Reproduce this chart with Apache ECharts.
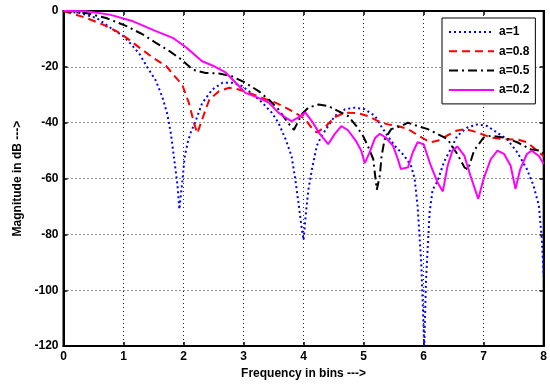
<!DOCTYPE html>
<html>
<head>
<meta charset="utf-8">
<script src="https://cdn.jsdelivr.net/npm/echarts@6/dist/echarts.min.js"></script>
<style>
  html, body { margin: 0; padding: 0; background: #fff; }
  #chart { width: 550px; height: 385px; }
</style>
</head>
<body>
<div id="chart"></div>
<script>
// Magnitude responses (dB) against frequency (bins) for four values of a
const freqA1 = [0, 0.27, 0.55, 0.82, 1.0, 1.13, 1.27, 1.40, 1.54, 1.65, 1.73, 1.79, 1.85, 1.90, 1.93, 1.98, 2.02, 2.07, 2.12, 2.2, 2.31, 2.48, 2.65, 2.81, 2.98, 3.12, 3.31, 3.47, 3.58, 3.70, 3.80, 3.86, 3.92, 3.97, 4.0, 4.04, 4.08, 4.14, 4.22, 4.30, 4.41, 4.52, 4.69, 4.85, 5.02, 5.19, 5.29, 5.40, 5.52, 5.68, 5.79, 5.85, 5.90, 5.96, 5.99, 6.01, 6.04, 6.07, 6.10, 6.15, 6.23, 6.34, 6.45, 6.56, 6.73, 6.90, 7.06, 7.22, 7.39, 7.56, 7.72, 7.83, 7.92, 7.97, 8.0];
const magA1 = [0, -0.7, -2.5, -6.6, -9, -12, -15.5, -20.3, -25, -31, -37, -44, -54, -62.5, -71, -61, -52, -47, -43.5, -39.5, -33, -28.1, -25.7, -25.7, -26.9, -29.3, -32.8, -36.4, -40, -45.9, -52, -60, -69.6, -78, -82, -72, -64, -56.6, -48.3, -44.7, -41.2, -37.6, -35.2, -34.6, -35.2, -37.6, -41.2, -44.7, -48.3, -51.9, -55.4, -60, -70, -90, -107.5, -120, -96, -84, -72, -64, -61, -54, -49.5, -44.7, -41.7, -40.6, -41.2, -43.5, -45.9, -50.6, -56.6, -62.5, -69.6, -82, -95];

const freqA08 = [0, 0.11, 0.38, 0.66, 0.88, 1.05, 1.27, 1.49, 1.71, 1.87, 1.98, 2.09, 2.18, 2.23, 2.31, 2.43, 2.59, 2.76, 2.92, 3.08, 3.31, 3.53, 3.70, 3.86, 4.03, 4.14, 4.22, 4.36, 4.52, 4.69, 4.91, 5.07, 5.24, 5.40, 5.57, 5.74, 5.90, 6.04, 6.12, 6.23, 6.40, 6.56, 6.70, 6.90, 7.12, 7.34, 7.56, 7.72, 7.83, 8.0];
const magA08 = [0, -0.7, -2.5, -4.9, -7.2, -9.6, -13.2, -16.7, -19.7, -23.8, -26.5, -33, -40.5, -43.8, -38.8, -31.7, -28.7, -27.5, -28.1, -29.3, -31.1, -32.8, -34.6, -36.4, -38.8, -42, -43.5, -41.5, -38, -36.4, -36.6, -37.6, -39.4, -40.6, -41.2, -42.3, -44.4, -46.2, -47, -46.5, -44.5, -42.8, -42.3, -43.5, -45.3, -45.9, -46, -47, -48.9, -52];

const freqA05 = [0, 0.4, 0.71, 1.05, 1.32, 1.54, 1.76, 1.96, 2.15, 2.37, 2.59, 2.81, 3.03, 3.25, 3.42, 3.58, 3.70, 3.80, 3.84, 3.97, 4.08, 4.25, 4.41, 4.57, 4.74, 4.88, 4.99, 5.07, 5.16, 5.22, 5.27, 5.30, 5.35, 5.46, 5.63, 5.74, 5.90, 6.07, 6.23, 6.40, 6.56, 6.68, 6.74, 6.84, 7.0, 7.12, 7.34, 7.56, 7.78, 7.94, 8.0];
const magA05 = [0, -0.8, -2.5, -5.4, -8.4, -11.4, -14.3, -17.3, -21, -22.2, -22.4, -23.4, -25.7, -28.7, -31.7, -35.2, -38.8, -41.7, -42.5, -37, -34.6, -33.5, -34, -35.8, -37.6, -41.2, -44.7, -48.3, -53, -64, -59, -51.9, -46, -42.3, -41.2, -40, -41.2, -42.3, -44, -45.9, -51.2, -56, -56.8, -50, -45.3, -44.7, -45.3, -47, -49.5, -50, -51];

const freqA02 = [0, 0.38, 0.77, 1.16, 1.54, 1.82, 2.04, 2.15, 2.31, 2.48, 2.70, 2.87, 3.03, 3.25, 3.42, 3.58, 3.70, 3.80, 3.91, 4.03, 4.14, 4.27, 4.41, 4.52, 4.63, 4.74, 4.88, 4.96, 5.02, 5.10, 5.19, 5.27, 5.37, 5.49, 5.57, 5.62, 5.74, 5.82, 5.90, 6.0, 6.12, 6.23, 6.32, 6.40, 6.48, 6.56, 6.68, 6.78, 6.91, 7.0, 7.12, 7.23, 7.34, 7.45, 7.53, 7.61, 7.72, 7.80, 7.92, 8.0];
const magA02 = [0, -0.1, -1.3, -3.7, -7.2, -9.6, -13, -15, -18, -19.5, -22, -25.7, -29.3, -31.1, -32.8, -36.4, -38.2, -39.4, -38.2, -36.4, -39.5, -44, -47.7, -44, -41.2, -42.7, -46.8, -50, -54.5, -50.6, -45.5, -44, -45.3, -48.3, -53, -56.6, -56, -50.6, -47, -47.7, -55.4, -61.3, -64.6, -55.4, -50, -48.5, -51.9, -59, -67.3, -60, -53, -50, -51.2, -55.4, -63.7, -56.6, -51.2, -50, -51.9, -54.8];

const seriesNames = ['a=1', 'a=0.8', 'a=0.5', 'a=0.2'];
const xTicks = [0, 1, 2, 3, 4, 5, 6, 7, 8];
const yTicks = [-120, -100, -80, -60, -40, -20, 0];

const pairs = (xs, ys) => xs.map((x, i) => [x, ys[i]]);

const font = 'Liberation Sans, Arial, sans-serif';
const gridLine = { show: true, lineStyle: { color: '#222', width: 1, type: [1, 3] } };
const labelStyle = { color: '#000', fontFamily: font, fontWeight: 'bold', fontSize: 12 };
const frameLine = { show: true, onZero: false, lineStyle: { color: '#000', width: 2 } };
const frameTick = { show: true, inside: true, length: 4, lineStyle: { color: '#000', width: 1.5 } };

function lineSeries(name, xs, ys, color, type) {
  return {
    name: name,
    type: 'line',
    data: pairs(xs, ys),
    symbol: 'none',
    showSymbol: false,
    smooth: false,
    animation: false,
    lineStyle: { color: color, width: 2, type: type },
    itemStyle: { color: color }
  };
}

const chart = echarts.init(document.getElementById('chart'), null, { renderer: 'canvas' });
chart.setOption({
  backgroundColor: '#fff',
  animation: false,
  grid: { left: 63.5, right: 3.5, top: 11, bottom: 37, show: true, borderColor: '#000', borderWidth: 2 },
  legend: {
    orient: 'vertical',
    left: 442,
    top: 18,
    padding: [8, 6, 8, 6],
    itemWidth: 45,
    itemHeight: 10,
    itemGap: 7.3,
    // line-only keys: the marker drawn over each key line is made invisible
    itemStyle: { color: 'rgba(0,0,0,0)', borderWidth: 0, borderColor: 'rgba(0,0,0,0)' },
    backgroundColor: '#fff',
    borderColor: '#000',
    borderWidth: 1,
    data: seriesNames,
    textStyle: { color: '#000', fontFamily: font, fontWeight: 'bold', fontSize: 12 }
  },
  xAxis: [{
    type: 'value',
    min: xTicks[0],
    max: xTicks[xTicks.length - 1],
    interval: 1,
    name: 'Frequency in bins --->',
    nameLocation: 'middle',
    nameGap: 19,
    nameTextStyle: { color: '#000', fontFamily: font, fontWeight: 'bold', fontSize: 12 },
    axisLine: frameLine,
    axisTick: frameTick,
    axisLabel: Object.assign({ margin: 5 }, labelStyle),
    splitLine: gridLine
  }, {
    type: 'value',
    position: 'top',
    min: xTicks[0],
    max: xTicks[xTicks.length - 1],
    interval: 1,
    axisLine: frameLine,
    axisTick: frameTick,
    axisLabel: { show: false },
    splitLine: { show: false }
  }],
  yAxis: [{
    type: 'value',
    min: yTicks[0],
    max: yTicks[yTicks.length - 1],
    interval: 20,
    name: 'Magnitude in dB --->',
    nameLocation: 'middle',
    nameGap: 40,
    nameTextStyle: { color: '#000', fontFamily: font, fontWeight: 'bold', fontSize: 12 },
    axisLine: frameLine,
    axisTick: frameTick,
    axisLabel: Object.assign({ margin: 5 }, labelStyle),
    splitLine: gridLine
  }, {
    type: 'value',
    position: 'right',
    min: yTicks[0],
    max: yTicks[yTicks.length - 1],
    interval: 20,
    axisLine: frameLine,
    axisTick: frameTick,
    axisLabel: { show: false },
    splitLine: { show: false }
  }],
  series: [
    lineSeries(seriesNames[0], freqA1, magA1, '#0000ff', [2, 3]),
    lineSeries(seriesNames[1], freqA08, magA08, '#ff0000', [8, 5]),
    lineSeries(seriesNames[2], freqA05, magA05, '#000000', [9, 4, 2, 4]),
    lineSeries(seriesNames[3], freqA02, magA02, '#ff00ff', 'solid')
  ]
});
</script>
</body>
</html>
